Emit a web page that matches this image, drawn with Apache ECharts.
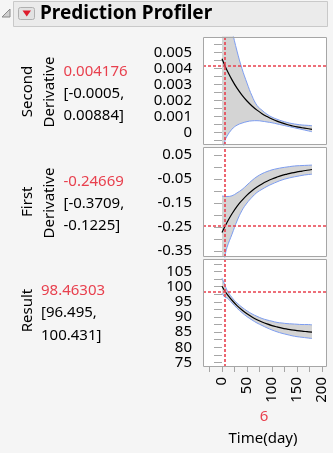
<!DOCTYPE html>
<html><head><meta charset="utf-8">
<script src="https://cdn.jsdelivr.net/npm/echarts@6/dist/echarts.min.js"></script>
<style>html,body{margin:0;padding:0;background:#f5f5f5;}#c{width:333px;height:453px;}</style>
</head><body><div id="c"></div>
<script>
// ---- data ----
const days = [0, 6, 10, 20, 30, 40, 50, 60, 70, 80, 90, 100, 110, 120, 130, 140, 150, 160, 170, 180];

const secondMean  = [0.00462, 0.004176, 0.0039, 0.0033, 0.00278, 0.00235, 0.00198, 0.00167, 0.00141, 0.00119, 0.00101, 0.00085, 0.00072, 0.00061, 0.00051, 0.00043, 0.00036, 0.00031, 0.00026, 0.00021];
const secondLower = [-0.0013, -0.0005, -0.00022, 0.00022, 0.00047, 0.0006, 0.00069, 0.00074, 0.00075, 0.00072, 0.00067, 0.00062, 0.00055, 0.00048, 0.00041, 0.00034, 0.00027, 0.0002, 0.00013, 0.00006];
const secondUpper = [0.0125, 0.00884, 0.0078, 0.0064, 0.0051, 0.004, 0.0031, 0.0023, 0.0017, 0.0014, 0.00115, 0.00097, 0.00084, 0.00073, 0.00064, 0.00057, 0.00052, 0.00048, 0.00046, 0.00044];

const firstMean  = [-0.273, -0.24669, -0.231, -0.195, -0.164, -0.139, -0.117, -0.099, -0.0835, -0.0705, -0.0595, -0.05, -0.042, -0.035, -0.0295, -0.0245, -0.0205, -0.017, -0.0135, -0.0105];
const firstLower = [-0.45, -0.3709, -0.335, -0.28, -0.225, -0.181, -0.15, -0.126, -0.106, -0.093, -0.081, -0.071, -0.062, -0.054, -0.048, -0.043, -0.039, -0.035, -0.032, -0.03];
const firstUpper = [-0.121, -0.1225, -0.123, -0.12, -0.108, -0.094, -0.075, -0.056, -0.04, -0.028, -0.019, -0.012, -0.007, -0.003, 0.0, 0.003, 0.005, 0.006, 0.007, 0.008];

const resultMean  = [100.1, 98.46303, 97.55, 95.5, 93.75, 92.3, 91.05, 90.0, 89.1, 88.35, 87.7, 87.15, 86.7, 86.3, 86.0, 85.75, 85.5, 85.3, 85.15, 85.0];
const resultLower = [97.8, 96.495, 96.3, 94.6, 92.9, 91.4, 90.1, 89.0, 88.0, 87.2, 86.4, 85.7, 85.1, 84.6, 84.2, 83.8, 83.5, 83.3, 83.1, 82.9];
const resultUpper = [102.8, 100.431, 98.8, 96.4, 94.6, 93.2, 92.0, 91.0, 90.2, 89.5, 89.0, 88.6, 88.2, 88.0, 87.8, 87.7, 87.6, 87.5, 87.5, 87.4];

const currentDay = 6;
const currentValues = [0.004176, -0.24669, 98.46303];
const currentText = ['0.004176', '-0.24669', '98.46303'];
const ciText = [['[-0.0005,', '0.00884]'], ['[-0.3709,', '-0.1225]'], ['[96.495,', '100.431]']];
const rowTitles = [['Second', 'Derivative'], ['First', 'Derivative'], ['Result']];

const xTicks = [-25, 0, 25, 50, 75, 100, 125, 150, 175, 200];
const xLabels = [0, 50, 100, 150, 200];
const secondTicks = [-0.0005, 0, 0.0005, 0.001, 0.0015, 0.002, 0.0025, 0.003, 0.0035, 0.004, 0.0045, 0.005, 0.0055];
const secondLabels = [0, 0.001, 0.002, 0.003, 0.004, 0.005];
const firstTicks = [-0.35, -0.3, -0.25, -0.2, -0.15, -0.1, -0.05, 0, 0.05];
const firstLabels = [-0.35, -0.25, -0.15, -0.05, 0.05];
const resultTicks = [75, 77.5, 80, 82.5, 85, 87.5, 90, 92.5, 95, 97.5, 100, 102.5, 105, 107.5];
const resultLabels = [75, 80, 85, 90, 95, 100, 105];
const xTitle = 'Time(day)';
const headerTitle = 'Prediction Profiler';

// ---- styling / layout ----
const FONT = '"Noto Sans", "DejaVu Sans", sans-serif';
const RED = '#e8404e';
const BLUE = '#7d9df0';
const BAND = '#d4d4d4';
const FRAME = '#a6a6a6';
const PLOT_LEFT = 203, PLOT_W = 124;

const panels = [
  {top: 37, height: 108, min: -0.00077, max: 0.00598, mean: secondMean, lo: secondLower, hi: secondUpper,
   ticks: secondTicks, labels: secondLabels, fmt: v => (Math.abs(v) < 1e-12 ? '0' : v.toFixed(3))},
  {top: 147, height: 110, min: -0.375, max: 0.0833, mean: firstMean, lo: firstLower, hi: firstUpper,
   ticks: firstTicks, labels: firstLabels, fmt: v => v.toFixed(2)},
  {top: 259, height: 108, min: 73.5, max: 109.1, mean: resultMean, lo: resultLower, hi: resultUpper,
   ticks: resultTicks, labels: resultLabels, fmt: v => String(Math.round(v))}
];

const grid = [], xAxis = [], yAxis = [], series = [];
const graphic = [];
panels.forEach((p, i) => {
  grid.push({left: PLOT_LEFT, top: p.top, width: PLOT_W, height: p.height, show: true,
    backgroundColor: '#ffffff', borderWidth: 0, containLabel: false, outerBoundsMode: 'none'});
  const isLast = i === panels.length - 1;
  xAxis.push({type: 'value', gridIndex: i, min: -38, max: 210, show: isLast,
    axisLine: {show: false},
    axisTick: {show: true, customValues: xTicks, length: 5, lineStyle: {color: FRAME}},
    axisLabel: {show: true, customValues: xLabels, rotate: 90, margin: 10, fontSize: 15, color: '#000', fontFamily: FONT},
    splitLine: {show: false}});
  yAxis.push({type: 'value', gridIndex: i, min: p.min, max: p.max,
    axisLine: {show: false},
    axisTick: {show: true, customValues: p.ticks, length: 8, lineStyle: {color: FRAME}},
    axisLabel: {show: true, customValues: p.labels, formatter: p.fmt, margin: 11, fontSize: 15, color: '#000', fontFamily: FONT},
    splitLine: {show: false}});
  const common = {type: 'line', xAxisIndex: i, yAxisIndex: i, symbol: 'none', smooth: 0.4, silent: true,
    emphasis: {disabled: true}, animation: false, clip: true};
  // upper edge, grey fill down to the axis bottom
  series.push(Object.assign({}, common, {name: 'hi' + i, z: 1,
    data: days.map((d, j) => [d, p.hi[j]]), lineStyle: {color: BLUE, width: 1},
    areaStyle: {color: BAND, opacity: 1, origin: 'start'}}));
  // lower edge, white fill down to the axis bottom (leaves the band grey)
  series.push(Object.assign({}, common, {name: 'lo' + i, z: 2,
    data: days.map((d, j) => [d, p.lo[j]]), lineStyle: {color: BLUE, width: 1},
    areaStyle: {color: '#ffffff', opacity: 1, origin: 'start'}}));
  series.push(Object.assign({}, common, {name: 'mean' + i, z: 4,
    data: days.map((d, j) => [d, p.mean[j]]), lineStyle: {color: '#000', width: 1.2},
    markLine: {silent: true, symbol: ['none', 'none'], animation: false, precision: 10,
      label: {show: false}, lineStyle: {color: RED, type: [3, 2], width: 1.6},
      data: [{xAxis: currentDay}, {yAxis: currentValues[i]}]}}));
  graphic.push({type: 'rect', z: 100, silent: true,
    shape: {x: PLOT_LEFT + 0.5, y: p.top + 0.5, width: PLOT_W - 1, height: p.height - 1},
    style: {fill: null, stroke: FRAME, lineWidth: 1}});
});

// header
graphic.push({type: 'rect', shape: {x: 13.5, y: 1.5, width: 314, height: 25}, style: {fill: '#ebebeb', stroke: '#c9c9c9', lineWidth: 1}, silent: true});
graphic.push({type: 'polygon', shape: {points: [[10, 9], [10, 17], [2, 17]]}, style: {fill: '#d0d0d0', stroke: '#8a8a8a', lineWidth: 1}, silent: true});
graphic.push({type: 'rect', shape: {x: 18.5, y: 7.5, width: 16, height: 12, r: 2}, style: {fill: '#e2e2e2', stroke: '#b0b0b0', lineWidth: 1}, silent: true});
graphic.push({type: 'polygon', shape: {points: [[22.5, 10.5], [31, 10.5], [26.75, 16.5]]}, style: {fill: '#dd1c2c'}, silent: true});
graphic.push({type: 'text', x: 40, y: 14, style: {text: headerTitle, fill: '#000', font: 'bold 19px ' + FONT, textAlign: 'left', textVerticalAlign: 'middle'}, silent: true});

const titleY = [[91.5, 92], [201.7, 203], [310.5]];
const titleX = [[27.7, 49.7], [27.7, 49.7], [27.7]];
rowTitles.forEach((arr, i) => arr.forEach((t, k) => {
  graphic.push({type: 'text', x: titleX[i][k], y: titleY[i][k], rotation: Math.PI / 2,
    style: {text: t, fill: '#000', font: '15px ' + FONT, textAlign: 'center', textVerticalAlign: 'middle'}, silent: true});
}));
const valX = [63.5, 63.5, 41];
const valY = [[71.5, 93.5, 115.5], [181.5, 203.5, 225.5], [290.5, 313, 335.5]];
currentText.forEach((t, i) => {
  graphic.push({type: 'text', x: valX[i], y: valY[i][0], style: {text: t, fill: RED, font: '15px ' + FONT, textAlign: 'left', textVerticalAlign: 'middle'}, silent: true});
  ciText[i].forEach((c, k) => {
    graphic.push({type: 'text', x: valX[i], y: valY[i][k + 1], style: {text: c, fill: '#000', font: '15px ' + FONT, textAlign: 'left', textVerticalAlign: 'middle'}, silent: true});
  });
});
graphic.push({type: 'text', x: 264, y: 417, style: {text: String(currentDay), fill: RED, font: '15px ' + FONT, textAlign: 'center', textVerticalAlign: 'middle'}, silent: true});
graphic.push({type: 'text', x: 263, y: 439, style: {text: xTitle, fill: '#000', font: '15px ' + FONT, textAlign: 'center', textVerticalAlign: 'middle'}, silent: true});

const chart = echarts.init(document.getElementById('c'), null, {renderer: 'canvas', width: 333, height: 453});
chart.setOption({
  backgroundColor: '#f5f5f5',
  animation: false,
  grid, xAxis, yAxis, series, graphic
});
</script></body></html>
